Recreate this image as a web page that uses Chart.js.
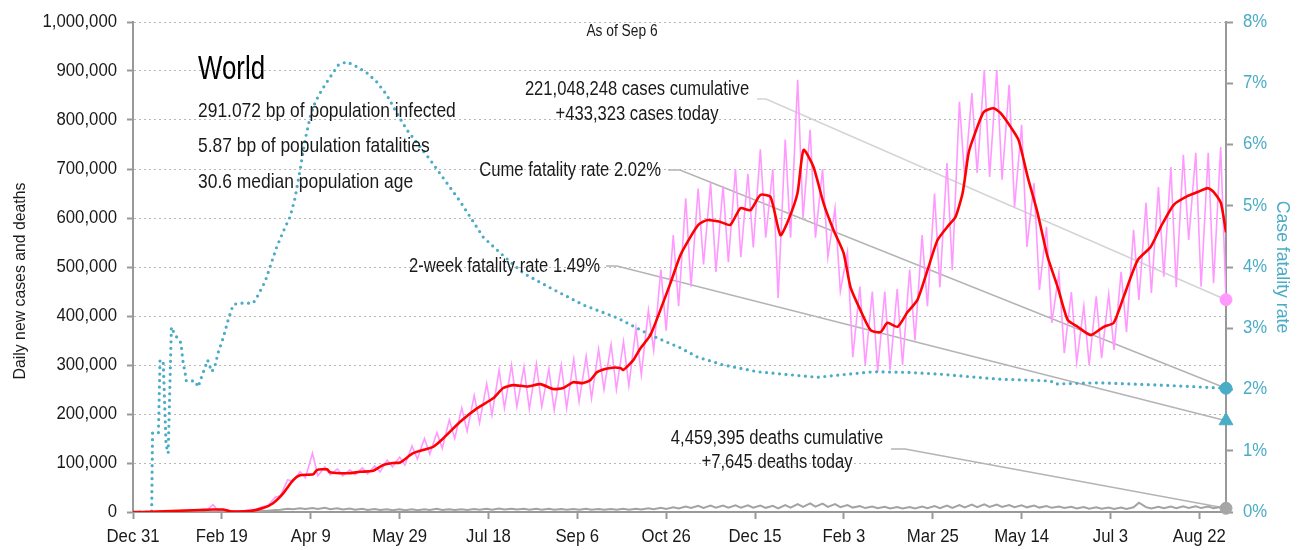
<!DOCTYPE html>
<html>
<head>
<meta charset="utf-8">
<script src="https://cdn.jsdelivr.net/npm/chart.js@4.4.0/dist/chart.umd.min.js"></script>
<style>
  html, body { margin: 0; padding: 0; background: #fff; }
</style>
</head>
<body>
<canvas id="worldChart" width="1299" height="550"></canvas>
<script>
// x axis: days since Dec 31 2019, last day (615) is Sep 6 2021
const tickDays = [0, 50, 100, 150, 200, 250, 300, 350, 400, 450, 500, 550, 600];
const tickLabels = ["Dec 31", "Feb 19", "Apr 9", "May 29", "Jul 18", "Sep 6", "Oct 26",
  "Dec 15", "Feb 3", "Mar 25", "May 14", "Jul 3", "Aug 22"];
const lastDay = 615;

// daily new cases, weekly highs (Fri) and lows (Mon)
const casePeaks = [0, 0, 400, 2000, 3500, 3800, 15000, 2000, 2500, 5000,
  11000, 30000, 66000, 82000, 120000, 92000, 88000, 86000, 90000, 94000,
  106000, 112000, 135000, 150000, 162000, 188000, 212000, 238000, 262000, 290000,
  300000, 296000, 302000, 292000, 300000, 312000, 318000, 332000, 342000, 348000,
  375000, 412000, 495000, 565000, 640000, 660000, 672000, 665000, 700000, 690000,
  740000, 700000, 760000, 882000, 780000, 700000, 620000, 530000, 460000, 450000,
  450000, 455000, 495000, 565000, 650000, 712000, 837000, 855000, 902000, 902000,
  872000, 790000, 671000, 582000, 488000, 449000, 420000, 440000, 445000, 490000,
  576000, 631000, 663000, 704000, 729000, 733000, 733000, 745000];
const caseTroughs = [0, 0, 800, 2500, 3000, 2500, 2000, 1500, 2000, 4500,
  13000, 33000, 62000, 70000, 74000, 76000, 74000, 76000, 78000, 82000,
  92000, 96000, 108000, 118000, 130000, 150000, 165000, 182000, 198000, 212000,
  215000, 210000, 215000, 208000, 212000, 225000, 232000, 250000, 250000, 258000,
  280000, 330000, 370000, 420000, 460000, 505000, 490000, 510000, 520000, 540000,
  560000, 437000, 560000, 600000, 560000, 520000, 450000, 316000, 300000, 286000,
  290000, 300000, 350000, 420000, 459000, 494000, 680000, 692000, 684000, 678000,
  622000, 541000, 453000, 386000, 324000, 306000, 300000, 314000, 331000, 367000,
  433000, 447000, 480000, 459000, 555000, 460000, 467000, 433323];

// 7-day average of cases
const avgDays = [0, 5.6, 37.7, 45, 50.7, 54.6, 65.9, 73.2, 78.8, 84.5, 90.1, 94, 101.4, 103.6,
  109.2, 110.9, 120.5, 127.8, 135.1, 140.8, 146.4, 150.3, 157.7, 168.9, 174.5, 184.1,
  193.7, 202.7, 208.3, 214, 221.8, 229.2, 236.5, 242.1, 247.7, 252.8, 257.3, 261.3,
  268.6, 274.2, 275.9, 281.5, 285.5, 291.1, 296.7, 302.4, 308, 313.6, 318.1, 323.2,
  330.5, 336.1, 341.8, 347.4, 353, 358.7, 364.3, 368.8, 373.9, 377.3, 382.9, 388.5,
  394.1, 399.8, 403.7, 409.3, 415, 420.6, 424.5, 430.2, 435.8, 441.4, 447.1, 452.7,
  458.9, 462.8, 466.8, 470.2, 473, 478.6, 484.2, 488.2, 493.8, 498.3, 503.4, 509,
  514.6, 520.3, 525.9, 531.5, 538.9, 546.2, 551.8, 557.4, 565.3, 572.6, 578.3, 585.6,
  593.5, 599.1, 604.7, 608.1, 612.1, 615];
const avgCases = [0, 0, 4000, 5000, 5000, 1500, 2000, 8000, 18000, 38000, 65000, 75000, 77000, 86000,
  87000, 81000, 79000, 82000, 84000, 96000, 100000, 101000, 120000, 133000, 150000, 184000,
  212000, 232000, 253000, 259000, 256000, 261000, 251000, 253000, 265000, 263000, 269000, 286000,
  294000, 294000, 290000, 310000, 334000, 361000, 412000, 467000, 524000, 561000, 586000, 596000,
  592000, 586000, 620000, 616000, 647000, 643000, 565000, 596000, 651000, 739000, 704000, 631000,
  576000, 529000, 459000, 412000, 371000, 367000, 386000, 378000, 408000, 433000, 494000, 555000,
  585000, 602000, 651000, 733000, 765000, 816000, 824000, 814000, 786000, 759000, 684000, 610000,
  521000, 459000, 392000, 378000, 361000, 378000, 386000, 439000, 514000, 541000, 582000, 627000,
  645000, 653000, 661000, 653000, 631000, 571000];

// daily deaths, weekly highs and lows
const deathPeaks = [0, 0, 10, 40, 70, 100, 150, 120, 80, 600,
  2000, 4000, 6500, 7500, 8000, 8500, 7500, 7000, 6500, 6000,
  5500, 5500, 5400, 5500, 6500, 5500, 5800, 6000, 6500, 7000,
  6800, 6500, 6500, 6500, 6300, 6200, 6500, 6300, 6200, 6500,
  6800, 7500, 8500, 9500, 11000, 12500, 13000, 13000, 13500, 13500,
  13000, 12500, 14000, 16000, 17500, 17000, 16000, 14000, 12000, 11000,
  10500, 10000, 10000, 11000, 12000, 13000, 14000, 15000, 15500, 15000,
  14000, 13500, 13000, 12000, 11000, 10500, 10000, 9500, 9000, 9000,
  9500, 10000, 10500, 11000, 11500, 11500, 11000, 10000];
const deathTroughs = [0, 0, 20, 40, 60, 80, 100, 80, 80, 900,
  2800, 4800, 5500, 6000, 6000, 5500, 5000, 4500, 4200, 4000,
  3800, 3800, 3800, 4000, 4200, 4200, 4300, 4500, 4800, 5000,
  5000, 4800, 4800, 4700, 4500, 4500, 4700, 4500, 4500, 4700,
  5000, 5500, 6000, 7000, 8000, 8500, 9000, 9000, 9000, 9000,
  8500, 7500, 9000, 10500, 11000, 10500, 10000, 9000, 8000, 7500,
  7000, 7000, 7000, 7500, 8000, 8500, 9500, 10000, 10500, 10500,
  10000, 9500, 9000, 8500, 8000, 7000, 6500, 6500, 6000, 6000,
  19000, 7000, 7500, 7500, 8000, 8000, 7500, 7645];

// cumulative case fatality rate (%)
const rateDays = [0, 10.5, 11, 14.3, 15.2, 17, 18.6, 19.8, 21.6, 23.5, 27, 28, 29.5, 30, 35,
  36.6, 39.4, 42, 44.3, 46, 47.9, 50.7, 53.5, 56.3, 59, 67.6, 69.8, 74.3, 77.1, 80.9,
  85.6, 88.4, 91.2, 94, 96.8, 99.7, 102.5, 106.2, 110.9, 115.6, 120.3, 126, 131.6,
  137.2, 142.8, 148.5, 154.1, 167.2, 184.1, 197, 206.6, 219.6, 234.8, 253.4, 272.5,
  291.1, 308, 317.6, 332.2, 351.4, 369.9, 385.1, 402, 416.7, 435.8, 454.4, 486.5,
  516.3, 519, 542.8, 579.9, 615];
const rateValues = [0, 0, 1.29, 1.29, 2.48, 2.46, 1.1, 0.96, 3.02, 2.9, 2.76, 2.48, 2.24, 2.14, 2.14,
  2.04, 2.27, 2.48, 2.29, 2.37, 2.6, 2.84, 3.13, 3.38, 3.41, 3.41, 3.51, 3.76, 4.0, 4.33,
  4.65, 4.82, 5.13, 5.58, 6.07, 6.45, 6.69, 6.89, 7.1, 7.3, 7.35, 7.27, 7.17,
  7.02, 6.81, 6.51, 6.24, 5.75, 5.07, 4.49, 4.23, 3.9, 3.66, 3.38, 3.17,
  2.89, 2.68, 2.53, 2.4, 2.29, 2.24, 2.2, 2.25, 2.29, 2.28, 2.25, 2.17,
  2.14, 2.09, 2.11, 2.07, 2.02];

const casesToday = 433323;
const deathsToday = 7645;
const cumeRate = 2.02;
const twoWeekRate = 1.49;

const FONT = '"Liberation Sans", Arial, sans-serif';
const TEAL = '#4bacc6';
Chart.defaults.font.family = FONT;
Chart.defaults.color = '#222';

// the original uses a narrow typeface, so text gets squeezed horizontally
let squeeze = 0.93;

// build point lists
const dailyCases = [];
const dailyDeaths = [];
casePeaks.forEach((v, i) => {
  dailyCases.push({ x: 3 + 7 * i, y: v });
  dailyCases.push({ x: 6 + 7 * i, y: caseTroughs[i] });
  dailyDeaths.push({ x: 3 + 7 * i, y: deathPeaks[i] });
  dailyDeaths.push({ x: 6 + 7 * i, y: deathTroughs[i] });
});
dailyCases.unshift({ x: 0, y: 0 });
dailyDeaths.unshift({ x: 0, y: 0 });
const avgLine = avgDays.map((d, i) => ({ x: d, y: avgCases[i] }));
const rateLine = rateDays.map((d, i) => ({ x: d, y: rateValues[i] }));

const narrowText = {
  id: 'narrowText',
  beforeInit(chart) {
    const ctx = chart.ctx;
    const plainFillText = ctx.fillText;
    ctx.fillText = function (text, x, y) {
      this.save();
      this.translate(x, y);
      this.scale(squeeze, 1);
      plainFillText.call(this, text, 0, 0);
      this.restore();
    };
  },
  beforeDraw() { squeeze = 0.93; }
};

// text notes and their leader lines
const notesPlugin = {
  id: 'notes',
  beforeDatasetsDraw(chart) {
    const { ctx, scales: { x, y, y2 } } = chart;
    const ex = x.getPixelForValue(lastDay);
    const leaders = [
      [757, 99, 766, y.getPixelForValue(casesToday), '#d4d4d4'],
      [668, 170, 680, y2.getPixelForValue(cumeRate), '#b4b4b4'],
      [606, 266, 617, y2.getPixelForValue(twoWeekRate), '#b4b4b4'],
      [891, 449, 905, y.getPixelForValue(deathsToday), '#b4b4b4']
    ];
    ctx.save();
    ctx.lineWidth = 1.6;
    leaders.forEach(([x0, y0, x1, ey, col]) => {
      ctx.strokeStyle = col;
      ctx.beginPath();
      ctx.moveTo(x0, y0);
      ctx.lineTo(x1, y0);
      ctx.lineTo(ex, ey);
      ctx.stroke();
    });
    ctx.restore();
  },
  afterDraw(chart) {
    const ctx = chart.ctx;
    ctx.save();
    ctx.fillStyle = '#1a1a1a';
    ctx.textBaseline = 'middle';
    ctx.textAlign = 'center';
    // left axis title
    ctx.save();
    ctx.translate(20, 281);
    ctx.rotate(-Math.PI / 2);
    squeeze = 0.93;
    ctx.font = '17px ' + FONT;
    ctx.fillText('Daily new cases and deaths', 0, 0);
    ctx.restore();
    squeeze = 0.86;
    ctx.font = '16px ' + FONT;
    ctx.fillText('As of Sep 6', 622, 32);
    squeeze = 0.83;
    ctx.font = '20px ' + FONT;
    ctx.fillText('221,048,248 cases cumulative', 637, 89);
    ctx.fillText('+433,323 cases today', 637, 114);
    ctx.fillText('4,459,395 deaths cumulative', 777, 438);
    ctx.fillText('+7,645 deaths today', 777, 462);
    ctx.textAlign = 'right';
    ctx.fillText('Cume fatality rate 2.02%', 661, 170);
    ctx.fillText('2-week fatality rate 1.49%', 600, 266);
    ctx.textAlign = 'left';
    ctx.fillStyle = '#000';
    squeeze = 0.76;
    ctx.font = '34px ' + FONT;
    ctx.fillText('World', 198, 70);
    ctx.fillStyle = '#1a1a1a';
    squeeze = 0.83;
    ctx.font = '21px ' + FONT;
    ctx.fillText('291.072 bp of population infected', 198, 111);
    ctx.fillText('5.87 bp of population fatalities', 198, 146);
    ctx.fillText('30.6 median population age', 198, 182);
    ctx.restore();
  }
};

new Chart(document.getElementById('worldChart'), {
  type: 'line',
  data: {
    datasets: [
      { data: [{ x: lastDay, y: casesToday }], yAxisID: 'y', showLine: false, clip: false,
        pointRadius: 6, pointBackgroundColor: '#ff99ff', pointBorderColor: '#ff99ff' },
      { data: [{ x: lastDay, y: cumeRate }], yAxisID: 'y2', showLine: false, clip: false,
        pointRadius: 6, pointBackgroundColor: TEAL, pointBorderColor: TEAL },
      { data: [{ x: lastDay, y: twoWeekRate }], yAxisID: 'y2', showLine: false, clip: false,
        pointStyle: 'triangle', pointRadius: 8, pointBackgroundColor: TEAL, pointBorderColor: TEAL },
      { data: [{ x: lastDay, y: deathsToday }], yAxisID: 'y', showLine: false, clip: false,
        pointRadius: 6, pointBackgroundColor: '#a6a6a6', pointBorderColor: '#a6a6a6' },
      { label: '7-day average', data: avgLine, yAxisID: 'y', borderColor: '#ff0000',
        borderWidth: 2.6, pointRadius: 0, tension: 0.2 },
      { label: 'Case fatality rate', data: rateLine, yAxisID: 'y2', borderColor: TEAL,
        borderWidth: 3.2, borderDash: [0, 6.5], borderCapStyle: 'round', pointRadius: 0 },
      { label: 'Daily deaths', data: dailyDeaths, yAxisID: 'y', borderColor: '#a3a3a3',
        borderWidth: 2, pointRadius: 0 },
      { label: 'Daily cases', data: dailyCases, yAxisID: 'y', borderColor: '#ff99ff',
        borderWidth: 1.6, pointRadius: 0 }
    ]
  },
  options: {
    responsive: false,
    animation: false,
    layout: { padding: { top: 22, left: 0, right: 0, bottom: 0 } },
    plugins: { legend: { display: false }, tooltip: { enabled: false } },
    scales: {
      x: {
        type: 'linear', min: 0, max: lastDay,
        afterBuildTicks: s => { s.ticks = tickDays.map(v => ({ value: v })); },
        afterFit: s => { s.height = 38; },
        grid: { drawOnChartArea: false, drawTicks: true, tickLength: 7, tickColor: '#999', tickWidth: 2 },
        border: { color: '#999', width: 2 },
        ticks: { callback: v => tickLabels[tickDays.indexOf(v)], font: { size: 18 }, color: '#1a1a1a',
          maxRotation: 0, autoSkip: false, padding: 7 }
      },
      y: {
        position: 'left', min: 0, max: 1000000,
        afterFit: s => { s.width = 133; },
        ticks: { stepSize: 100000, callback: v => v.toLocaleString('en-US'), font: { size: 18 },
          color: '#1a1a1a', padding: 10 },
        grid: { color: '#b8b8b8', lineWidth: 1, drawTicks: true, tickLength: 6, tickColor: '#999', tickWidth: 2 },
        border: { color: '#999', width: 2, dash: [2, 3] }
      },
      y2: {
        position: 'right', min: 0, max: 8,
        afterFit: s => { s.width = 73; },
        ticks: { stepSize: 1, callback: v => v + '%', font: { size: 18 }, color: TEAL, padding: 10 },
        grid: { drawOnChartArea: false, drawTicks: true, tickLength: 7, tickColor: '#999', tickWidth: 2 },
        border: { color: '#999', width: 2 },
        title: { display: true, text: 'Case fatality rate', font: { size: 19 }, color: TEAL,
          padding: { top: 5, bottom: 0 } }
      }
    }
  },
  plugins: [narrowText, notesPlugin]
});
</script>
</body>
</html>
